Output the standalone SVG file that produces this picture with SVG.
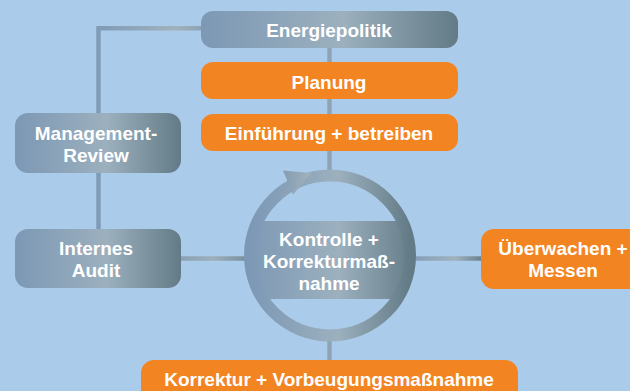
<svg xmlns="http://www.w3.org/2000/svg" width="630" height="391" viewBox="0 0 630 391">
  <defs>
    <style>
      .label { font-family: "Liberation Sans", Arial, sans-serif; font-weight: bold; font-size: 19px; fill: #ffffff; text-anchor: middle; }
      .steel { fill: url(#steel); }
      .accent { fill: #f28421; }
      .wire { fill: none; stroke-width: 4.5; }
    </style>
    <!-- brushed steel fill used by the grey-blue nodes and the cycle ring -->
    <linearGradient id="steel" x1="0" y1="0" x2="1" y2="0">
      <stop offset="0" stop-color="#7c98b5"/>
      <stop offset="0.55" stop-color="#9cb0be"/>
      <stop offset="1" stop-color="#637b87"/>
    </linearGradient>
    <linearGradient id="tip" x1="0" y1="0" x2="1" y2="0">
      <stop offset="0" stop-color="#859cb2"/>
      <stop offset="1" stop-color="#a2b3bd"/>
    </linearGradient>
    <!-- connector gradients, laid out in user space so straight lines take them -->
    <linearGradient id="wireTop" gradientUnits="userSpaceOnUse" x1="98" y1="0" x2="201" y2="0">
      <stop offset="0" stop-color="#7f9bb8"/>
      <stop offset="0.75" stop-color="#a0b2bc"/>
      <stop offset="1" stop-color="#8ea4b4"/>
    </linearGradient>
    <linearGradient id="wireLeft" gradientUnits="userSpaceOnUse" x1="181" y1="0" x2="245" y2="0">
      <stop offset="0" stop-color="#8aa1b4"/>
      <stop offset="0.5" stop-color="#9db0bc"/>
      <stop offset="1" stop-color="#7a909d"/>
    </linearGradient>
    <linearGradient id="wireRight" gradientUnits="userSpaceOnUse" x1="416" y1="0" x2="481" y2="0">
      <stop offset="0" stop-color="#86a0b8"/>
      <stop offset="0.6" stop-color="#a0b2bd"/>
      <stop offset="1" stop-color="#6d8390"/>
    </linearGradient>
    <clipPath id="disc">
      <circle cx="330" cy="255.5" r="80"/>
    </clipPath>
  </defs>

  <rect width="630" height="391" fill="#abcbea"/>

  <!-- connectors -->
  <g id="connectors">
    <path class="wire" d="M202,28.2 H98.5 V230" stroke="url(#wireTop)"/>
    <line class="wire" x1="329.5" y1="47" x2="329.5" y2="172" stroke="#8fa4b3" stroke-width="4"/>
    <line class="wire" x1="180" y1="258.5" x2="246" y2="258.5" stroke="url(#wireLeft)"/>
    <line class="wire" x1="414" y1="258.5" x2="482" y2="258.5" stroke="url(#wireRight)"/>
    <line class="wire" x1="329.5" y1="340" x2="329.5" y2="361" stroke="#8fa4b3" stroke-width="4"/>
  </g>

  <g id="energiepolitik">
    <rect class="steel" x="201" y="11" width="257" height="37" rx="12"/>
    <text class="label" x="329" y="36.5">Energiepolitik</text>
  </g>

  <g id="planung">
    <rect class="accent" x="201" y="62" width="257" height="37" rx="12"/>
    <text class="label" x="329" y="88.5">Planung</text>
  </g>

  <g id="einfuehrung">
    <rect class="accent" x="201" y="114" width="257" height="37" rx="12"/>
    <text class="label" x="329" y="140.3">Einführung + betreiben</text>
  </g>

  <g id="management-review">
    <rect class="steel" x="15" y="113" width="166" height="60" rx="13"/>
    <text class="label" x="96" y="140">Management-</text>
    <text class="label" x="96" y="162.3">Review</text>
  </g>

  <g id="internes-audit">
    <rect class="steel" x="15" y="229" width="166" height="59" rx="13"/>
    <text class="label" x="96" y="255">Internes</text>
    <text class="label" x="96" y="277">Audit</text>
  </g>

  <!-- central cycle: ring with arrowhead and a text band across the disc -->
  <g id="kontrolle">
    <rect class="steel" x="244" y="221" width="172" height="78" clip-path="url(#disc)"/>
    <circle cx="330" cy="255.5" r="80" fill="none" stroke="url(#steel)" stroke-width="12"/>
    <polygon points="283,170.5 311.5,173 293,194.5" fill="url(#tip)"/>
    <text class="label" x="329" y="245.5">Kontrolle +</text>
    <text class="label" x="329" y="267.5">Korrekturmaß-</text>
    <text class="label" x="329" y="289.5">nahme</text>
  </g>

  <g id="ueberwachen">
    <rect class="accent" x="481" y="229" width="166" height="60" rx="13"/>
    <text class="label" x="563" y="255">Überwachen +</text>
    <text class="label" x="563" y="277">Messen</text>
  </g>

  <g id="korrektur">
    <rect class="accent" x="141" y="360" width="377" height="50" rx="13"/>
    <text class="label" x="329" y="386.3">Korrektur + Vorbeugungsmaßnahme</text>
  </g>
</svg>
